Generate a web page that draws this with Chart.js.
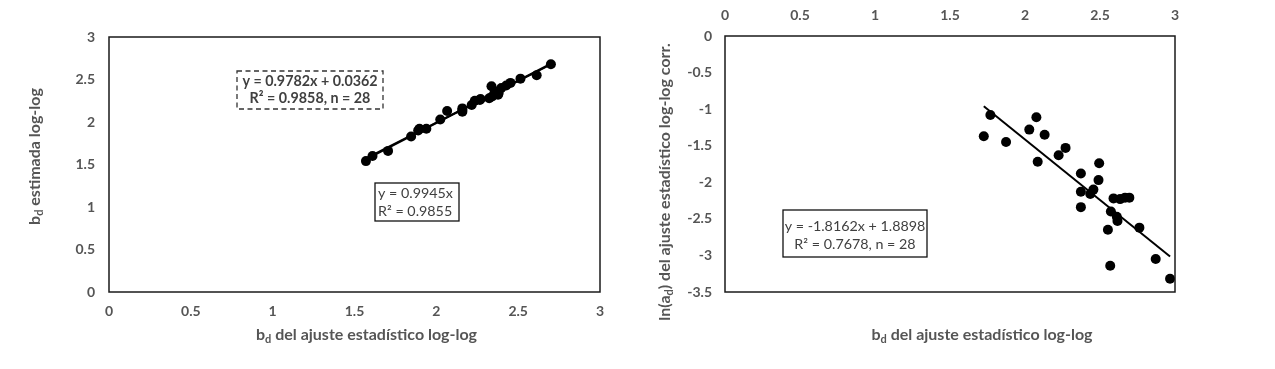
<!DOCTYPE html>
<html><head><meta charset="utf-8">
<script src="https://cdn.jsdelivr.net/npm/chart.js@4.4.0/dist/chart.umd.min.js"></script>
<style>
html,body{margin:0;padding:0;background:#fff;}
#wrap{position:relative;width:1275px;height:369px;}
.c{position:absolute;top:0;height:369px;}
</style></head><body>
<div id="wrap">
<div class="c" style="left:0;width:637px"><canvas id="left"></canvas></div>
<div class="c" style="left:637px;width:638px"><canvas id="right"></canvas></div>
</div>
<script>
// ---- data ----
const bdFit = [1.570,1.610,1.705,1.846,1.889,1.897,1.939,2.024,2.066,2.159,2.159,2.159,2.216,2.235,
               2.266,2.270,2.323,2.337,2.341,2.357,2.377,2.381,2.397,2.427,2.453,2.514,2.613,2.700];
const bdEst = [1.54,1.60,1.66,1.83,1.90,1.92,1.92,2.03,2.13,2.14,2.12,2.16,2.20,2.25,
               2.26,2.27,2.28,2.42,2.30,2.36,2.32,2.34,2.40,2.43,2.46,2.51,2.55,2.68];
const lnAd  = [-1.37,-1.08,-1.45,-1.28,-1.11,-1.72,-1.35,-1.63,-1.53,-1.88,-2.13,-2.34,-2.16,-2.10,
               -1.97,-1.74,-2.65,-3.14,-2.40,-2.22,-2.47,-2.53,-2.23,-2.21,-2.21,-2.62,-3.05,-3.32];
const fitLeftLinear = [0.9782, 0.0362];
const fitLeftOrigin = [0.9945, 0];
const fitRight = [-1.8162, 1.8898];
const eqLeftLinear = ['y = 0.9782x + 0.0362', 'R\u00B2 = 0.9858, n = 28'];
const eqLeftOrigin = ['y = 0.9945x', 'R\u00B2 = 0.9855'];
const eqRight = ['y = -1.8162x + 1.8898', 'R\u00B2 = 0.7678, n = 28'];
const xTitleParts = [['b',0],['d',1],[' del ajuste estad\u00EDstico log-log',0]];
const yTitleLeftParts = [['b',0],['d',1],[' estimada log-log',0]];
const yTitleRightParts = [['ln(a',0],['d',1],[') del ajuste estad\u00EDstico log-log corr.',0]];
const xTickRange = [0, 3, 0.5];
const yTickRangeLeft = [0, 3, 0.5];
const yTickRangeRight = [-3.5, 0, 0.5];

// ---- helpers ----
const FAM = 'Lato, "Open Sans", sans-serif';
const GRAY = '#555555';
function pts(xs, ys){ return xs.map((x,i)=>({x:x, y:ys[i]})); }
function trend(c, xs){
  const a = Math.min(...xs), b = Math.max(...xs);
  return [{x:a, y:c[0]*a+c[1]}, {x:b, y:c[0]*b+c[1]}];
}
function rich(ctx, parts, size){
  const big = 'bold ' + size + 'px ' + FAM, small = 'bold ' + Math.round(size*0.66) + 'px ' + FAM;
  let w = 0;
  parts.forEach(p=>{ ctx.font = p[1] ? small : big; w += ctx.measureText(p[0]).width; });
  let x = -w/2;
  ctx.fillStyle = GRAY; ctx.textBaseline = 'middle'; ctx.textAlign = 'left';
  parts.forEach(p=>{
    ctx.font = p[1] ? small : big;
    ctx.fillText(p[0], x, p[1] ? size*0.3 : 0);
    x += ctx.measureText(p[0]).width;
  });
}
function tickOpts(range, pad){
  return {stepSize:range[2], padding:pad, color:GRAY, maxRotation:0,
          font:{family:FAM, size:14, weight:'bold'},
          callback:(v)=> String(Math.round(v*10)/10)};
}
const noGrid = {display:false, drawTicks:false};

function decorPlugin(cfg){
  return {
    id:'decor',
    afterDatasetsDraw(chart){
      const ctx = chart.ctx, a = chart.chartArea;
      ctx.save();
      ctx.strokeStyle = '#1a1a1a'; ctx.lineWidth = 1.5;
      ctx.strokeRect(a.left, a.top, a.right-a.left, a.bottom-a.top);
      ctx.save(); ctx.translate((a.left+a.right)/2 + cfg.xTitleDx, a.bottom + cfg.xTitleDy);
      rich(ctx, cfg.xTitle, 16); ctx.restore();
      ctx.save(); ctx.translate(cfg.yTitleX, (a.top+a.bottom)/2 + cfg.yTitleDy); ctx.rotate(-Math.PI/2);
      rich(ctx, cfg.yTitle, 16); ctx.restore();
      cfg.boxes.forEach(b=>{
        ctx.save();
        ctx.lineWidth = 1.3; ctx.strokeStyle = b.dash ? '#333' : '#111';
        if (b.dash) ctx.setLineDash([5,3.5]);
        ctx.strokeRect(b.x, b.y, b.w, b.h);
        ctx.setLineDash([]);
        ctx.fillStyle = '#404040';
        ctx.font = (b.bold ? 'bold ' : '') + b.size + 'px ' + FAM;
        ctx.textBaseline = 'middle';
        ctx.textAlign = b.align;
        const tx = b.align === 'center' ? b.x + b.w/2 : b.x + 3;
        b.lines.forEach((t,i)=> ctx.fillText(t, tx, b.y + b.first + i*b.gap));
        ctx.restore();
      });
      ctx.restore();
    }
  };
}

Chart.defaults.font.family = FAM;

// ---- left chart ----
new Chart(document.getElementById('left'), {
  type:'scatter',
  data:{datasets:[
    {data:trend(fitLeftOrigin, bdFit), showLine:true, borderColor:'#000', borderWidth:2, pointRadius:0},
    {data:trend(fitLeftLinear, bdFit), showLine:true, borderColor:'#000', borderWidth:2, pointRadius:0},
    {data:pts(bdFit, bdEst), pointRadius:5, pointBackgroundColor:'#000', pointBorderColor:'#000', pointBorderWidth:0}
  ]},
  options:{
    responsive:true, maintainAspectRatio:false, animation:false,
    layout:{padding:{left:0, right:37, top:37, bottom:0}},
    plugins:{legend:{display:false}, tooltip:{enabled:false}},
    scales:{
      x:{type:'linear', min:xTickRange[0], max:xTickRange[1], ticks:tickOpts(xTickRange, 11), grid:noGrid, border:{display:false},
         afterFit(s){ s.height = 77; }},
      y:{type:'linear', min:yTickRangeLeft[0], max:yTickRangeLeft[1], ticks:tickOpts(yTickRangeLeft, 14), grid:noGrid, border:{display:false},
         afterFit(s){ s.width = 109; }}
    }
  },
  plugins:[decorPlugin({
    xTitle:xTitleParts, xTitleDx:12, xTitleDy:43,
    yTitle:yTitleLeftParts, yTitleX:35, yTitleDy:-8,
    boxes:[
      {x:237, y:71, w:146, h:38, lines:eqLeftLinear, bold:true, size:14.3, align:'center', first:10, gap:17, dash:true},
      {x:375, y:183, w:84, h:38, lines:eqLeftOrigin, bold:false, size:14.3, align:'left', first:10, gap:18, dash:false}
    ]
  })]
});

// ---- right chart ----
new Chart(document.getElementById('right'), {
  type:'scatter',
  data:{datasets:[
    {data:trend(fitRight, bdFit), showLine:true, borderColor:'#000', borderWidth:2, pointRadius:0, xAxisID:'x', yAxisID:'y'},
    {data:pts(bdFit, lnAd), pointRadius:5, pointBackgroundColor:'#000', pointBorderColor:'#000', pointBorderWidth:0, xAxisID:'x', yAxisID:'y'}
  ]},
  options:{
    responsive:true, maintainAspectRatio:false, animation:false,
    layout:{padding:{left:0, right:100, top:0, bottom:77}},
    plugins:{legend:{display:false}, tooltip:{enabled:false}},
    scales:{
      x:{type:'linear', display:false, min:0, max:2.73},
      xTop:{type:'linear', position:'top', min:xTickRange[0], max:xTickRange[1], ticks:tickOpts(xTickRange, 12), grid:noGrid, border:{display:false},
         afterFit(s){ s.height = 36; }},
      y:{type:'linear', min:yTickRangeRight[0], max:yTickRangeRight[1], ticks:tickOpts(yTickRangeRight, 13), grid:noGrid, border:{display:false},
         afterFit(s){ s.width = 88; }}
    }
  },
  plugins:[decorPlugin({
    xTitle:xTitleParts, xTitleDx:32, xTitleDy:43,
    yTitle:yTitleRightParts, yTitleX:28, yTitleDy:18,
    boxes:[
      {x:146, y:210, w:144, h:47, lines:eqRight, bold:false, size:14.3, align:'center', first:16, gap:18, dash:false}
    ]
  })]
});
</script>
</body></html>
